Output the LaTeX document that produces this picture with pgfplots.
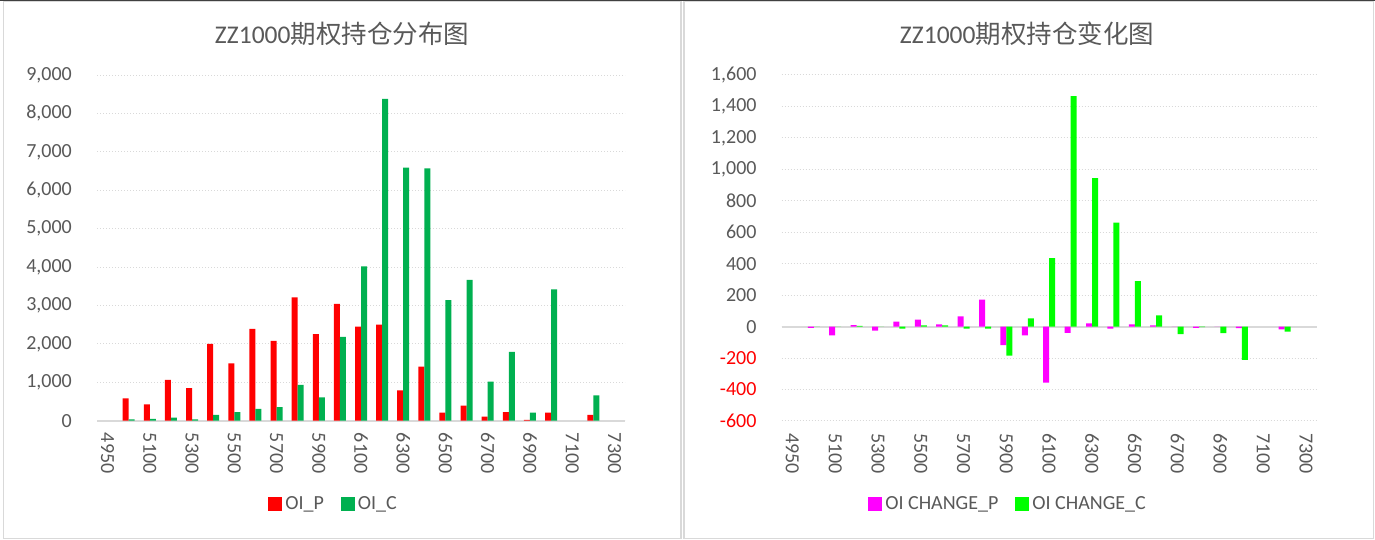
\documentclass[border=0pt]{standalone}
\usepackage{fontspec}
\setmainfont{Carlito}
\newfontfamily\cjk{Noto Sans CJK SC}
\usepackage{pgfplots}
\usepackage{pgfplotstable}
\pgfplotsset{compat=1.18}
\definecolor{txt}{HTML}{595959}
\definecolor{gridc}{HTML}{D9D9D9}
\definecolor{cred}{HTML}{FF0000}
\definecolor{cgreen}{HTML}{00B050}
\definecolor{cmag}{HTML}{FF00FF}
\definecolor{clime}{HTML}{00FF00}

\pgfplotstableread{
x P C
1 580 35
2 425 45
3 1060 80
4 850 35
5 2000 150
6 1495 225
7 2390 305
8 2075 355
9 3210 930
10 2255 610
11 3040 2180
12 2450 4020
13 2500 8380
14 790 6590
15 1405 6570
16 210 3140
17 390 3665
18 105 1015
19 225 1790
20 20 210
21 210 3420
23 150 660
}\oidata

\pgfplotstableread{
x P C
1 -8 0
2 -55 0
3 10 5
4 -25 0
5 32 -13
6 44 8
7 15 8
8 66 -13
9 172 -13
10 -117 -184
11 -55 53
12 -356 436
13 -40 1466
14 21 945
15 -13 661
16 15 290
17 8 72
18 0 -47
19 -8 -3
20 0 -42
21 -10 -212
23 -17 -32
}\chgdata

\pgfplotsset{
  panel/.style={
    scale only axis,
    anchor=south west,
    xmin=-0.5, xmax=24.5,
    xtick={0,2,...,24},
    xticklabels={4950,5100,5300,5500,5700,5900,6100,6300,6500,6700,6900,7100,7300},
    major tick length=0pt,
    axis line style={draw=none},
    ymajorgrids,
    major grid style={gridc, line width=1bp, dash pattern=on 1bp off 2bp},
    extra y ticks={0},
    extra y tick labels={},
    extra y tick style={grid=major, major grid style={gridc, solid, line width=2bp}},
    ybar=0pt, bar width=6bp,
    ticklabel style={font=\fontsize{20bp}{24bp}\selectfont, text=txt, inner sep=0pt},
    xticklabel style={rotate=-90, anchor=west},
    xticklabel shift=12bp,
    yticklabel shift=25bp,
    yticklabel style={anchor=east},
    /pgf/number format/.cd, 1000 sep={,}, assume math mode=true, /pgfplots/.cd,
    legend style={draw=none, fill=none, font=\fontsize{20bp}{24bp}\selectfont, text=txt,
      legend columns=2, anchor=center, nodes={inner sep=3bp},
      /tikz/every even column/.append style={column sep=14bp}},
    legend image code/.code={\fill[##1] (0bp,-7bp) rectangle (14bp,7bp);},
  }
}

\begin{document}
\begin{tikzpicture}
\useasboundingbox (0,0) rectangle (1375bp,540bp);
\fill[white] (0,0) rectangle (1375bp,540bp);
\draw[gridc, line width=1.5bp] (3.5bp,1.5bp) rectangle (681bp,539bp);
\draw[gridc, line width=1.5bp] (684bp,1.5bp) rectangle (1373.5bp,539bp);
\draw[black!75, line width=2bp] (0,539.5bp) -- (1375bp,539.5bp);

\node[anchor=base, text=txt, font=\fontsize{25.5bp}{30bp}\selectfont] at (342bp,496.7bp) {ZZ1000{\cjk 期权持仓分布图}};
\node[anchor=base, text=txt, font=\fontsize{25.5bp}{30bp}\selectfont] at (1027bp,496.7bp) {ZZ1000{\cjk 期权持仓变化图}};

\begin{axis}[panel, at={(97bp,119.3bp)}, width=528bp, height=345.7bp,
  ymin=0, ymax=9000, ytick={0,1000,...,9000},
  legend style={at={(0.449,-0.241)}}]
\addplot[fill=cred, draw=none] table[x=x, y=P] {\oidata};
\addplot[fill=cgreen, draw=none] table[x=x, y=C] {\oidata};
\legend{OI\_P, OI\_C}
\end{axis}

\begin{axis}[panel, at={(781.7bp,119bp)}, width=535bp, height=346bp,
  ymin=-600, ymax=1600, ytick={-600,-400,...,1600},
  yticklabel={\ifdim\tick pt<0pt\color{red}\fi\pgfmathprintnumber{\tick}},
  legend style={at={(0.424,-0.240)}}]
\addplot[fill=cmag, draw=none] table[x=x, y=P] {\chgdata};
\addplot[fill=clime, draw=none] table[x=x, y=C] {\chgdata};
\legend{OI CHANGE\_P, OI CHANGE\_C}
\end{axis}
\end{tikzpicture}
\end{document}
